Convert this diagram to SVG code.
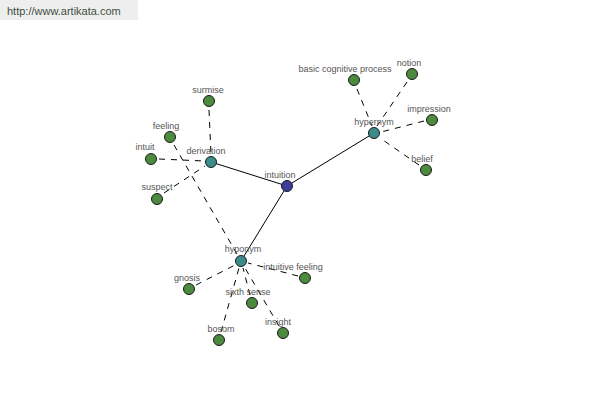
<svg xmlns="http://www.w3.org/2000/svg" width="600" height="400" viewBox="0 0 600 400">
<style>
.bg{fill:#ffffff}
.wm{fill:#eeeeee}
.wmt{font-family:"Liberation Sans",Arial,sans-serif;font-size:11px;fill:#3f4f3f}
.lbl{font-family:"Liberation Sans",Arial,sans-serif;font-size:9px;fill:#555555;text-anchor:middle}
.s{stroke:#000;stroke-width:1;fill:none}
.d{stroke:#000;stroke-width:1;fill:none;stroke-dasharray:6,6}
.n{stroke:#1a1a1a;stroke-width:1}
.main{fill:#3c3c9c}
.rel{fill:#3c8c8c}
.leaf{fill:#4c8a3e}
</style>
<rect class="bg" x="0" y="0" width="600" height="400"/>
<rect class="wm" x="0" y="0" width="138" height="20"/>
<text class="wmt" x="7" y="15">http://www.artikata.com</text>
<g id="connectors">
<line class="s" x1="211" y1="162" x2="287" y2="186"/>
<line class="s" x1="287" y1="186" x2="374" y2="133"/>
<line class="s" x1="287" y1="186" x2="241" y2="261"/>
<line class="d" x1="209" y1="110" x2="211" y2="155"/>
<line class="d" x1="159" y1="159" x2="204" y2="161"/>
<line class="d" x1="164" y1="193" x2="205" y2="166"/>
<line class="d" x1="174" y1="145" x2="237" y2="254"/>
<line class="d" x1="357" y1="89" x2="372" y2="126"/>
<line class="d" x1="407" y1="82" x2="377" y2="126"/>
<line class="d" x1="424" y1="121" x2="381" y2="132"/>
<line class="d" x1="419" y1="165" x2="380" y2="138"/>
<line class="d" x1="196" y1="285" x2="235" y2="265"/>
<line class="d" x1="298" y1="276" x2="248" y2="263"/>
<line class="d" x1="250" y1="295" x2="243" y2="268"/>
<line class="d" x1="221" y1="332" x2="239" y2="268"/>
<line class="d" x1="279" y1="326" x2="245" y2="268"/>
</g>
<g id="intuition"><circle class="n main" cx="287" cy="186" r="5.5"/><text class="lbl" x="280" y="178">intuition</text></g>
<g id="derivation"><circle class="n rel" cx="211" cy="162" r="5.5"/><text class="lbl" x="206" y="154">derivation</text></g>
<g id="hypernym"><circle class="n rel" cx="374" cy="133" r="5.5"/><text class="lbl" x="374" y="125">hypernym</text></g>
<g id="hyponym"><circle class="n rel" cx="241" cy="261" r="5.5"/><text class="lbl" x="243" y="252">hyponym</text></g>
<g id="surmise"><circle class="n leaf" cx="209" cy="101" r="5.5"/><text class="lbl" x="208" y="93">surmise</text></g>
<g id="feeling"><circle class="n leaf" cx="170" cy="137" r="5.5"/><text class="lbl" x="166" y="129">feeling</text></g>
<g id="intuit"><circle class="n leaf" cx="151" cy="159" r="5.5"/><text class="lbl" x="145" y="150">intuit</text></g>
<g id="suspect"><circle class="n leaf" cx="157" cy="199" r="5.5"/><text class="lbl" x="157" y="190">suspect</text></g>
<g id="basic-cognitive-process"><circle class="n leaf" cx="354" cy="80" r="5.5"/><text class="lbl" x="345" y="72">basic cognitive process</text></g>
<g id="notion"><circle class="n leaf" cx="412" cy="74" r="5.5"/><text class="lbl" x="409" y="66">notion</text></g>
<g id="impression"><circle class="n leaf" cx="432" cy="120" r="5.5"/><text class="lbl" x="429" y="112">impression</text></g>
<g id="belief"><circle class="n leaf" cx="426" cy="170" r="5.5"/><text class="lbl" x="422" y="162">belief</text></g>
<g id="gnosis"><circle class="n leaf" cx="189" cy="289" r="5.5"/><text class="lbl" x="187" y="281">gnosis</text></g>
<g id="intuitive-feeling"><circle class="n leaf" cx="305" cy="278" r="5.5"/><text class="lbl" x="293" y="270">intuitive feeling</text></g>
<g id="sixth-sense"><circle class="n leaf" cx="252" cy="303" r="5.5"/><text class="lbl" x="248" y="295">sixth sense</text></g>
<g id="bosom"><circle class="n leaf" cx="219" cy="340" r="5.5"/><text class="lbl" x="221" y="332">bosom</text></g>
<g id="insight"><circle class="n leaf" cx="283" cy="333" r="5.5"/><text class="lbl" x="278" y="325">insight</text></g>
</svg>
